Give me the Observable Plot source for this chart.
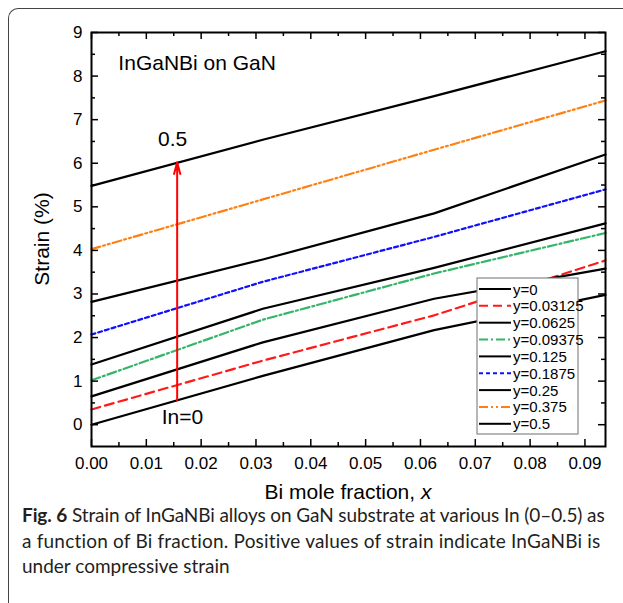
<!DOCTYPE html>
<html><head><meta charset="utf-8">
<script src="https://cdn.jsdelivr.net/npm/d3@7"></script>
<script src="https://cdn.jsdelivr.net/npm/@observablehq/plot@0.6"></script>
<style>
body{margin:0;background:#fff;}
#wrap{position:relative;width:623px;height:603px;overflow:hidden;font-family:"Liberation Sans",Arial,sans-serif;}
#chart{position:absolute;left:0;top:0;}
#border{position:absolute;left:8px;top:8px;width:700px;height:700px;border-left:1.3px solid #444;border-top:1.3px solid #444;border-top-left-radius:10px;pointer-events:none;}
#caption{position:absolute;left:22px;top:502px;font-family:Lato,"Open Sans",sans-serif;font-size:19px;line-height:25.5px;white-space:nowrap;color:#231f20;}
#caption .l1{letter-spacing:-0.1px;}
#caption .l2{letter-spacing:0.2px;}
</style></head>
<body>
<div id="wrap">
  <div id="chart"></div>
  <div id="border"></div>
  <div id="caption"><span class="l1"><b>Fig. 6</b> Strain of InGaNBi alloys on GaN substrate at various In (0–0.5) as</span><br><span class="l2">a function of Bi fraction. Positive values of strain indicate InGaNBi is</span><br>under compressive strain</div>
</div>
<script>
// ---- data ----
const biFraction = [0, 0.03125, 0.0625, 0.09375];
const seriesLabels = ["y=0","y=0.03125","y=0.0625","y=0.09375","y=0.125","y=0.1875","y=0.25","y=0.375","y=0.5"];
const strainIn0      = [0.00, 1.12, 2.17, 2.98];
const strainIn003125 = [0.35, 1.47, 2.51, 3.77];
const strainIn00625  = [0.65, 1.89, 2.89, 3.58];
const strainIn009375 = [1.02, 2.41, 3.47, 4.40];
const strainIn0125   = [1.38, 2.66, 3.60, 4.62];
const strainIn01875  = [2.07, 3.28, 4.31, 5.40];
const strainIn025    = [2.82, 3.79, 4.85, 6.20];
const strainIn0375   = [4.03, 5.17, 6.31, 7.44];
const strainIn05     = [5.48, 6.54, 7.54, 8.57];
const xTickValues = [0, 0.01, 0.02, 0.03, 0.04, 0.05, 0.06, 0.07, 0.08, 0.09];
const xMinorValues = [0.005, 0.015, 0.025, 0.035, 0.045, 0.055, 0.065, 0.075, 0.085];
const yTickValues = [0, 1, 2, 3, 4, 5, 6, 7, 8, 9];
const yMinorValues = [0.5, 1.5, 2.5, 3.5, 4.5, 5.5, 6.5, 7.5, 8.5];
const arrowData = [{x: 0.015625, y1: 0.56, y2: 6.02}];
const annotations = [
  {x: 0.0049, y: 8.13, text: "InGaNBi on GaN", anchor: "start"},
  {x: 0.0148, y: 6.39, text: "0.5", anchor: "middle"},
  {x: 0.0166, y: 0.02, text: "In=0", anchor: "middle"}
];

// ---- styles ----
const seriesValues = [strainIn0, strainIn003125, strainIn00625, strainIn009375, strainIn0125, strainIn01875, strainIn025, strainIn0375, strainIn05];
const seriesStyles = [
  {stroke: "#000", dash: null},
  {stroke: "#ff1a1a", dash: "9,5"},
  {stroke: "#000", dash: null},
  {stroke: "#35b56a", dash: "9,3,2,3"},
  {stroke: "#000", dash: null},
  {stroke: "#1010ff", dash: "4,3"},
  {stroke: "#000", dash: null},
  {stroke: "#ff8012", dash: "9,3,2,3,2,3"},
  {stroke: "#000", dash: null}
];
const tables = seriesValues.map((vals, i) => biFraction.map((b, j) => ({x: b, y: vals[j], s: seriesLabels[i]})));

const W = 623, H = 510, mL = 91, mR = 18, mT = 32, mB = 64;
const fw = W - mL - mR, fh = H - mT - mB;

const marks = [
  ...tables.map((t, i) => Plot.line(t, {x: "x", y: "y", stroke: seriesStyles[i].stroke, strokeWidth: 2.2, strokeDasharray: seriesStyles[i].dash, strokeLinejoin: "round"})),
  // inward ticks on all four sides
  Plot.ruleY(yTickValues, {y: d => d, insetRight: fw - 7, strokeWidth: 1.5}),
  Plot.ruleY(yTickValues, {y: d => d, insetLeft: fw - 7, strokeWidth: 1.5}),
  Plot.ruleY(yMinorValues, {y: d => d, insetRight: fw - 4, strokeWidth: 1.5}),
  Plot.ruleY(yMinorValues, {y: d => d, insetLeft: fw - 4, strokeWidth: 1.5}),
  Plot.ruleX(xTickValues, {x: d => d, insetTop: fh - 7, strokeWidth: 1.5}),
  Plot.ruleX(xTickValues, {x: d => d, insetBottom: fh - 7, strokeWidth: 1.5}),
  Plot.ruleX(xMinorValues, {x: d => d, insetTop: fh - 4, strokeWidth: 1.5}),
  Plot.ruleX(xMinorValues, {x: d => d, insetBottom: fh - 4, strokeWidth: 1.5}),
  Plot.axisY({ticks: yTickValues, tickSize: 0, tickPadding: 9, fontSize: 17, label: null, tickFormat: d => String(d)}),
  Plot.axisX({ticks: xTickValues, tickSize: 0, tickPadding: 10, fontSize: 17, label: null, tickFormat: d3.format(".2f")}),
  Plot.frame({strokeWidth: 2}),
  Plot.arrow(arrowData, {x: "x", y1: "y1", y2: "y2", stroke: "#ff0000", strokeWidth: 2, headLength: 9, headAngle: 30}),
  Plot.text(annotations.filter(d => d.anchor === "start"), {x: "x", y: "y", text: "text", textAnchor: "start", lineAnchor: "bottom", fontSize: 21}),
  Plot.text(annotations.filter(d => d.anchor === "middle"), {x: "x", y: "y", text: "text", textAnchor: "middle", lineAnchor: "bottom", fontSize: 21})
];

const chart = Plot.plot({
  width: W, height: H,
  marginLeft: mL, marginRight: mR, marginTop: mT, marginBottom: mB,
  x: {domain: [0, 0.09375]},
  y: {domain: [-0.5, 9]},
  style: {fontFamily: "'Liberation Sans', Arial, sans-serif", fontSize: "17px", color: "#000", background: "transparent"},
  marks
});
document.getElementById("chart").appendChild(chart);

const svg = d3.select(chart);
// axis titles
const xt = svg.append("text").attr("x", (mL + W - mR) / 2).attr("y", 499).attr("text-anchor", "middle")
  .attr("font-size", 21).attr("fill", "#000");
xt.append("tspan").text("Bi mole fraction, ");
xt.append("tspan").attr("font-style", "italic").text("x");
svg.append("text").attr("transform", `translate(49,${(mT + H - mB) / 2}) rotate(-90)`).attr("text-anchor", "middle")
  .attr("font-size", 21).attr("fill", "#000").text("Strain (%)");

// legend
const lg = svg.append("g").attr("text-anchor", "start");
lg.append("rect").attr("x", 477).attr("y", 278).attr("width", 101).attr("height", 156)
  .attr("fill", "#fff").attr("stroke", "#888").attr("stroke-width", 1.2);
seriesLabels.forEach((lab, i) => {
  const yy = 289 + i * 16.85;
  lg.append("line").attr("x1", 479).attr("x2", 511).attr("y1", yy).attr("y2", yy)
    .attr("stroke", seriesStyles[i].stroke).attr("stroke-width", 2)
    .attr("stroke-dasharray", seriesStyles[i].dash);
  lg.append("text").attr("x", 513).attr("y", yy + 5.5).attr("text-anchor", "start")
    .attr("font-size", 15).attr("fill", "#000").text(lab);
});
</script>
</body></html>
